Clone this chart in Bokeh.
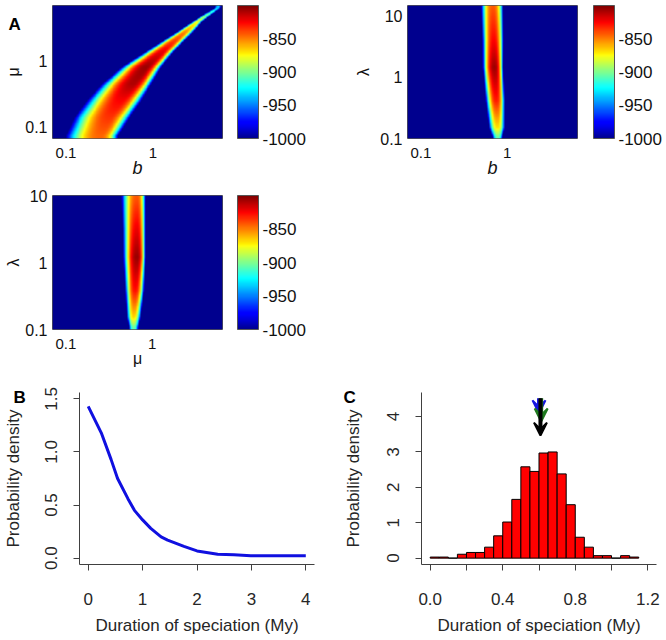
import numpy as np
from bokeh.plotting import figure
from bokeh.models import (Range1d, LinearColorMapper, ColorBar, FixedTicker,
                          CustomJSTickFormatter, Arrow, VeeHead, Spacer)
from bokeh.core.properties import value
from bokeh.layouts import column, row
from bokeh.embed import file_html
from bokeh.resources import INLINE

FONT = "Liberation Sans"
TXT = "#262626"

# ---------------- Panel A: log-likelihood surfaces (ridge read row by row) ----------
# A1: mu (y) vs b (x)
a1_xrange = [0.07, 6.3]
a1_yrange = [0.066, 6.8]
a1_rows_logmu = [-1.14, -0.86, -0.61, -0.36, -0.10, 0.15, 0.40, 0.60, 0.80]
a1_center_logb = [-0.60, -0.50, -0.37, -0.23, -0.08, 0.12, 0.34, 0.52, 0.75]
a1_left_hw = [0.40, 0.40, 0.39, 0.36, 0.28, 0.185, 0.10, 0.05, 0.032]
a1_right_hw = [0.20, 0.235, 0.235, 0.21, 0.175, 0.128, 0.10, 0.053, 0.032]
a1_peak = [-845, -835, -825, -810, -806, -822, -848, -880, -935]

# A2: lambda (y) vs b (x)
a2_xrange = [0.07, 6.5]
a2_yrange = [0.1, 15.0]
a2_rows_loglam = [-0.98, -0.82, -0.38, 0.16, 0.60, 1.15]
a2_center_logb = [-0.11, -0.115, -0.127, -0.147, -0.155, -0.165]
a2_left_hw = [0.058, 0.094, 0.12, 0.138, 0.135, 0.14]
a2_right_hw = [0.053, 0.088, 0.10, 0.102, 0.114, 0.12]
a2_peak = [-905, -870, -830, -806, -825, -842]

# A3: lambda (y) vs mu (x)
a3_xrange = [0.07, 6.5]
a3_yrange = [0.1, 10.0]
a3_rows_loglam = [-0.97, -0.82, -0.42, 0.08, 0.50, 0.97]
a3_center_logmu = [-0.215, -0.215, -0.196, -0.176, -0.176, -0.176]
a3_left_hw = [0.053, 0.078, 0.118, 0.16, 0.166, 0.18]
a3_right_hw = [0.053, 0.08, 0.10, 0.099, 0.099, 0.099]
a3_peak = [-905, -868, -828, -805, -822, -842]

cbar_low, cbar_high = -1000, -800
cbar_ticks = [-1000, -950, -900, -850]
log_ticks = [0.1, 1, 10]

# ---------------- Panel B: probability density of speciation duration ----------------
b_x = [0.0, 0.24, 0.42, 0.54, 0.73, 0.85, 1.0, 1.15, 1.34, 1.46, 1.76, 2.0, 2.38, 2.68, 2.99, 4.0]
b_y = [1.43, 1.18, 0.93, 0.75, 0.56, 0.45, 0.36, 0.28, 0.20, 0.17, 0.11, 0.068, 0.037, 0.031, 0.022, 0.022]
b_xticks = [0, 1, 2, 3, 4]
b_yticks = [0.0, 0.5, 1.0, 1.5]

# ---------------- Panel C: histogram of durations ----------------
c_bin_left = [0.00, 0.05, 0.10, 0.15, 0.20, 0.25, 0.30, 0.35, 0.40, 0.45, 0.50, 0.55,
              0.60, 0.65, 0.70, 0.75, 0.80, 0.85, 0.90, 0.95, 1.00, 1.05, 1.10]
c_bin_width = 0.05
c_density = [0.03, 0.03, 0.0, 0.11, 0.16, 0.16, 0.31, 0.63, 1.02, 1.66, 2.58, 2.45,
             2.97, 3.00, 2.38, 1.51, 0.59, 0.31, 0.07, 0.07, 0.0, 0.07, 0.03]
c_arrow_x = [0.600, 0.612, 0.608]
c_arrow_top = [4.52, 4.52, 4.52]
c_arrow_tip = [4.09, 3.86, 3.46]
c_arrow_color = ["#1515e0", "#1f7a1f", "#000000"]
c_xticks = [0.0, 0.2, 0.4, 0.6, 0.8, 1.0, 1.2]
c_yticks = [0, 1, 2, 3, 4]

panel_letters = ["A", "B", "C"]


def jet(n=256):
    out = []
    for i in range(n):
        v = i / (n - 1)
        r = min(max(1.5 - abs(4 * v - 3), 0), 1)
        g = min(max(1.5 - abs(4 * v - 2), 0), 1)
        b = min(max(1.56 - abs(4 * v - 1), 0), 1)
        out.append("#%02x%02x%02x" % (int(r * 255), int(g * 255), int(b * 255)))
    return out


JET = jet()


def ridge_image(xr, yr, rows, center, lhw, rhw, peak, nx=260, ny=220):
    lx0, lx1 = np.log10(xr[0]), np.log10(xr[1])
    ly0, ly1 = np.log10(yr[0]), np.log10(yr[1])
    lx = lx0 + (np.arange(nx) + 0.5) * (lx1 - lx0) / nx
    ly = ly0 + (np.arange(ny) + 0.5) * (ly1 - ly0) / ny
    c = np.interp(ly, rows, center)
    l = np.interp(ly, rows, lhw)
    r = np.interp(ly, rows, rhw)
    pk = np.interp(ly, rows, peak)
    d = lx[None, :] - c[:, None]
    hw = np.where(d < 0, l[:, None], r[:, None])
    f = (np.abs(d) / hw) ** 2.5
    z = pk[:, None] - (pk[:, None] - cbar_low) * f
    return np.clip(z, cbar_low, cbar_high)


def heat_fig(width, height, left, top, bottom, frame_h, xr, yr, z, xlabel, ylabel,
             xitalic, cb_gap, x_label_standoff, x_label_size, y_label_standoff):
    p = figure(width=width, height=height, x_axis_type="log", y_axis_type="log",
               x_range=Range1d(*xr), y_range=Range1d(*yr),
               output_backend="svg", toolbar_location=None,
               min_border_left=left, min_border_right=width - left - 170,
               min_border_top=top, min_border_bottom=bottom)
    mapper = LinearColorMapper(palette=JET, low=cbar_low, high=cbar_high)
    p.image(image=[z], x=xr[0], y=yr[0], dw=xr[1] - xr[0], dh=yr[1] - yr[0],
            color_mapper=mapper)
    p.grid.visible = False
    p.outline_line_color = "#555555"
    for ax in (p.xaxis[0], p.yaxis[0]):
        ax.ticker = FixedTicker(ticks=log_ticks, minor_ticks=[])
        ax.formatter = CustomJSTickFormatter(code="return String(tick)")
        ax.major_tick_in = 0
        ax.major_tick_out = 0
        ax.minor_tick_line_color = None
        ax.axis_line_color = None
        ax.major_label_text_font = FONT
        ax.major_label_text_font_size = "16px"
        ax.major_label_text_color = "#111111"
        ax.axis_label_text_font = FONT
        ax.axis_label_text_font_size = "16px"
        ax.axis_label_text_color = "#111111"
        ax.axis_label_text_font_style = "normal"
    p.xaxis.major_label_text_font_size = "15px"
    p.xaxis.major_label_standoff = 9
    p.yaxis.major_label_standoff = 5
    p.xaxis.axis_label_standoff = x_label_standoff
    p.yaxis.axis_label_standoff = y_label_standoff
    p.xaxis.axis_label = xlabel
    p.xaxis.axis_label_text_font_size = x_label_size
    if xitalic:
        p.xaxis.axis_label_text_font_style = "italic"
    p.yaxis.axis_label = ylabel
    cb = ColorBar(color_mapper=mapper, ticker=FixedTicker(ticks=cbar_ticks, minor_ticks=[]),
                  formatter=CustomJSTickFormatter(code="return String(tick)"),
                  location=(cb_gap, 0), width=21, height=frame_h, padding=0, margin=0,
                  label_standoff=4, major_tick_line_color=None, minor_tick_line_color=None,
                  bar_line_color="#555555", background_fill_color=None,
                  major_label_text_font=FONT, major_label_text_font_size="17px",
                  major_label_text_color="#111111")
    p.add_layout(cb, "right")
    return p


def panel_letter(p, text, dx, dy):
    # anchored at the frame's top-left corner, shifted in pixels
    p.text(x=[p.x_range.start], y=[p.y_range.end], text=[text], x_offset=dx, y_offset=dy,
           text_font=value(FONT), text_font_size="17px", text_font_style="bold",
           text_color="#000000", text_baseline="alphabetic", text_align="left",
           level="overlay")


zA1 = ridge_image(a1_xrange, a1_yrange, a1_rows_logmu, a1_center_logb, a1_left_hw, a1_right_hw, a1_peak)
zA2 = ridge_image(a2_xrange, a2_yrange, a2_rows_loglam, a2_center_logb, a2_left_hw, a2_right_hw, a2_peak)
zA3 = ridge_image(a3_xrange, a3_yrange, a3_rows_loglam, a3_center_logmu, a3_left_hw, a3_right_hw, a3_peak)

pA1 = heat_fig(333, 180, 52, 5, 42, 133, a1_xrange, a1_yrange, zA1, "b", "μ", True, 15, -3, "18px", 0)
pA2 = heat_fig(333, 180, 74, 5, 42, 133, a2_xrange, a2_yrange, zA2, "b", "λ", True, 16, -3, "18px", 5)
pA3 = heat_fig(333, 190, 52, 15, 41, 134, a3_xrange, a3_yrange, zA3, "μ", "λ", False, 15, -2, "16px", 0)
panel_letter(pA1, panel_letters[0], -44, 19)


def r_style(p, ylabel_standoff):
    p.grid.visible = False
    p.outline_line_color = None
    for ax in (p.xaxis[0], p.yaxis[0]):
        ax.axis_line_color = "#404040"
        ax.major_tick_line_color = "#404040"
        ax.major_tick_in = 0
        ax.major_tick_out = 6
        ax.minor_tick_line_color = None
        ax.major_label_text_font = FONT
        ax.major_label_text_font_size = "17px"
        ax.major_label_text_color = TXT
        ax.axis_label_text_font = FONT
        ax.axis_label_text_font_size = "17px"
        ax.axis_label_text_color = TXT
        ax.axis_label_text_font_style = "normal"
    p.yaxis.major_label_orientation = "vertical"
    p.xaxis.major_label_standoff = 22
    p.yaxis.major_label_standoff = 16
    p.xaxis.axis_label_standoff = 8
    p.yaxis.axis_label_standoff = ylabel_standoff
    p.xaxis.axis_label = "Duration of speciation (My)"
    p.yaxis.axis_label = "Probability density"


pB = figure(width=333, height=267, x_range=Range1d(-0.16, 4.16), y_range=Range1d(-0.06, 1.56),
            output_backend="svg", toolbar_location=None,
            min_border_left=79, min_border_right=19, min_border_top=22, min_border_bottom=70)
pB.line(b_x, b_y, line_color="#1010e0", line_width=3)
r_style(pB, 20)
pB.xaxis.ticker = FixedTicker(ticks=b_xticks, minor_ticks=[])
pB.yaxis.ticker = FixedTicker(ticks=b_yticks, minor_ticks=[])
pB.xaxis.formatter = CustomJSTickFormatter(code="return tick.toFixed(0)")
pB.yaxis.formatter = CustomJSTickFormatter(code="return tick.toFixed(1)")
panel_letter(pB, panel_letters[1], -66, 5)

pC = figure(width=333, height=267, x_range=Range1d(-0.048, 1.248), y_range=Range1d(-0.18, 4.68),
            output_backend="svg", toolbar_location=None,
            min_border_left=88, min_border_right=10, min_border_top=22, min_border_bottom=70)
c_right = [v + c_bin_width for v in c_bin_left]
pC.quad(left=c_bin_left, right=c_right, bottom=0, top=c_density,
        fill_color="#ff0000", line_color="#000000", line_width=1)
for xa, y0, y1, col in zip(c_arrow_x, c_arrow_top, c_arrow_tip, c_arrow_color):
    pC.add_layout(Arrow(x_start=xa, y_start=y0, x_end=xa, y_end=y1,
                        line_color=col, line_width=4,
                        end=VeeHead(size=13, fill_color=col, line_color=col, line_width=2)))
r_style(pC, 22)
pC.xaxis.ticker = FixedTicker(ticks=c_xticks, minor_ticks=[])
pC.yaxis.ticker = FixedTicker(ticks=c_yticks, minor_ticks=[])
pC.xaxis.formatter = CustomJSTickFormatter(
    code="const k = Math.round(tick*10); return (k % 4 == 0) ? (k/10).toFixed(1) : '';")
pC.yaxis.formatter = CustomJSTickFormatter(code="return tick.toFixed(0)")
panel_letter(pC, panel_letters[2], -78, 5)

layout = column(row(pA1, pA2), row(pA3, Spacer(width=333, height=190)), row(pB, pC))
open("out.html", "w").write(file_html(layout, INLINE))
